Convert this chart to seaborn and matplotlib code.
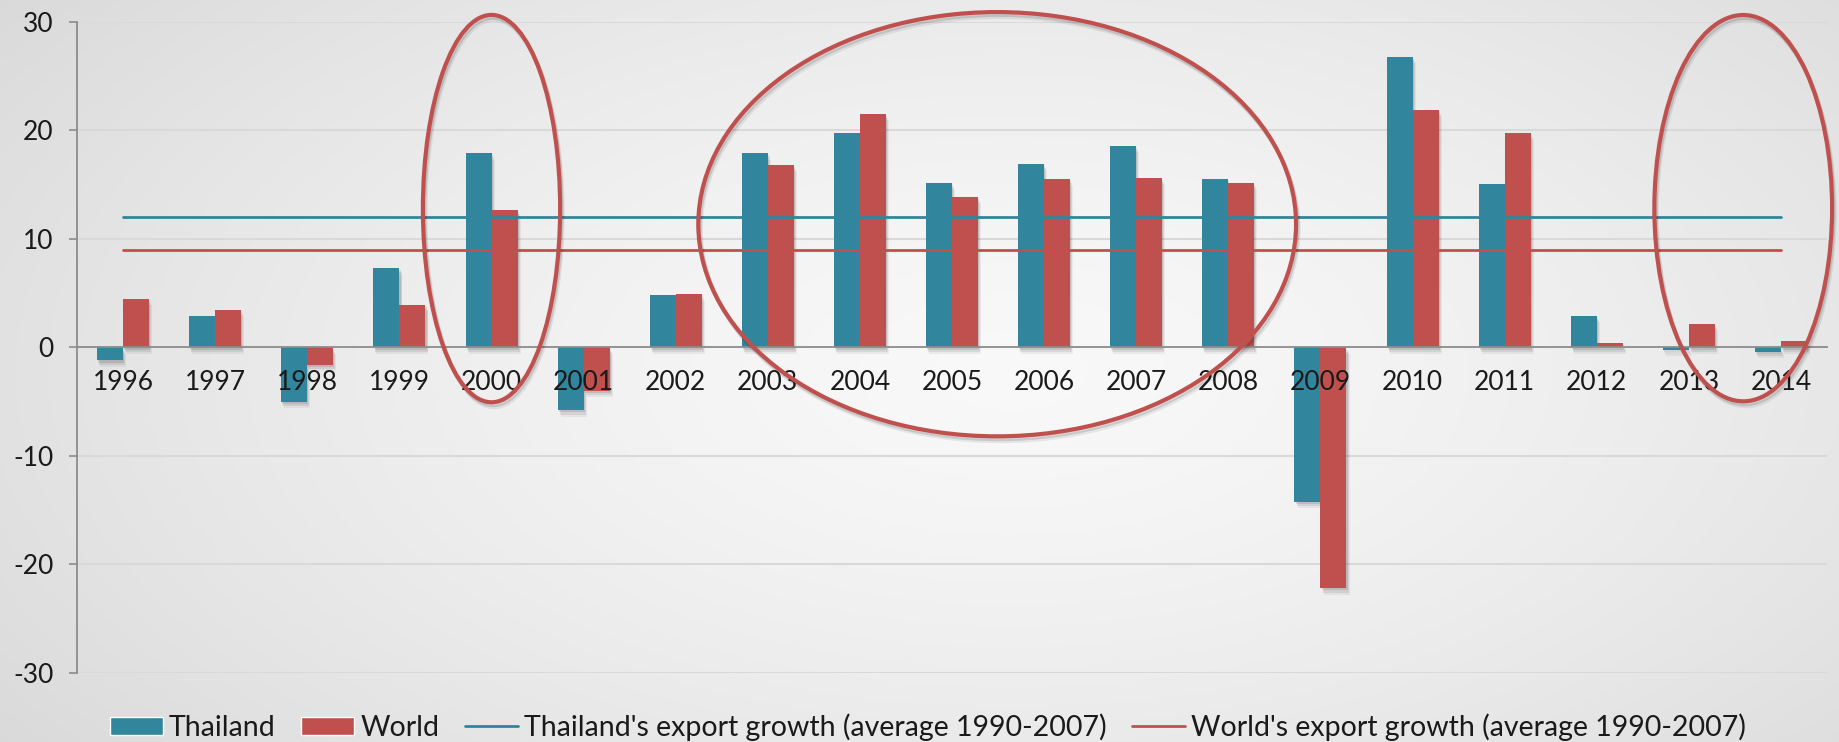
import numpy as np
import pandas as pd
import matplotlib
matplotlib.use("Agg")
import matplotlib.pyplot as plt
import matplotlib.patheffects as pe
from matplotlib.patches import Ellipse, Patch
from matplotlib.lines import Line2D
import seaborn as sns

# Export growth, % per year
years = [str(y) for y in range(1996, 2015)]
thailand = [-1.2, 2.9, -5.0, 7.3, 17.9, -5.8, 4.8, 17.9, 19.8, 15.2,
            16.9, 18.6, 15.5, -14.2, 26.8, 15.1, 2.9, -0.2, -0.4]
world = [4.5, 3.5, -1.6, 3.9, 12.7, -4.0, 4.9, 16.8, 21.5, 13.9,
         15.5, 15.6, 15.2, -22.2, 21.9, 19.8, 0.4, 2.2, 0.6]
thailand_avg = 12.0
world_avg = 9.0
series_names = ["Thailand", "World"]
line_names = ["Thailand's export growth (average 1990-2007)",
              "World's export growth (average 1990-2007)"]
y_ticks = [-30, -20, -10, 0, 10, 20, 30]

TEAL = "#31859C"
RED = "#C0504D"
GRAY = "#8C8C8C"
TEXT = "#1A1A1A"

sns.set_style("white")
plt.rcParams["font.family"] = ["Lato", "DejaVu Sans"]

df = pd.DataFrame({
    "year": years * 2,
    "growth": thailand + world,
    "series": [series_names[0]] * len(years) + [series_names[1]] * len(years),
})

fig = plt.figure(figsize=(18.39, 7.42), dpi=100)

# soft radial backdrop
bg = fig.add_axes([0, 0, 1, 1], zorder=-10)
yy, xx = np.mgrid[0:1:742j, 0:1:1839j]
d = np.sqrt(((xx - 0.55) / 0.75) ** 2 + ((yy - 0.5) / 0.95) ** 2)
shade = np.clip(0.975 - 0.14 * d ** 1.4, 0, 1)
bg.imshow(np.dstack([shade] * 3), aspect="auto", extent=[0, 1, 0, 1])
bg.set_axis_off()

ax = fig.add_axes([0.0419, 0.093, 0.9516, 0.8774])
ax.set_facecolor("none")

# horizontal gridlines sit beneath everything
for t in y_ticks:
    if t != 0:
        ax.axhline(t, color="#D9D9D9", lw=1.5, zorder=0.5)

sns.barplot(data=df, x="year", y="growth", hue="series", order=years,
            hue_order=series_names, palette={series_names[0]: TEAL, series_names[1]: RED},
            width=0.565, saturation=1, ax=ax, legend=False, zorder=1,
            linewidth=0)

# soft drop shadow built from a few faint offset copies
shadow = [pe.SimplePatchShadow(offset=(0.8, -1.5), shadow_rgbFace="black", alpha=0.10),
          pe.SimplePatchShadow(offset=(1.5, -3.0), shadow_rgbFace="black", alpha=0.08),
          pe.SimplePatchShadow(offset=(2.2, -4.5), shadow_rgbFace="black", alpha=0.05),
          pe.Normal()]
for p in ax.patches:
    p.set_path_effects(shadow)

# long-run averages
n = len(years)
ax.plot([0, n - 1], [thailand_avg] * 2, color=TEAL, lw=2, zorder=3)
ax.plot([0, n - 1], [world_avg] * 2, color=RED, lw=2, zorder=3)

# highlighted periods
for cx, cy, w, h in [(4.0, 12.8, 1.49, 35.7), (9.49, 11.36, 6.49, 39.1), (17.59, 12.84, 1.93, 35.6)]:
    e = Ellipse((cx, cy), w, h, fill=False, ec=RED, lw=3, zorder=6, clip_on=False)
    e.set_path_effects([pe.SimpleLineShadow(offset=(1.0, -2.0), shadow_color="black", alpha=0.12),
                        pe.SimpleLineShadow(offset=(1.8, -3.5), shadow_color="black", alpha=0.07),
                        pe.Normal()])
    ax.add_patch(e)

ax.set_xlim(-0.5, n - 0.5)
ax.set_ylim(-30, 30)
ax.set_yticks(y_ticks)
ax.set_yticklabels([str(t) for t in y_ticks])
ax.set_xlabel("")
ax.set_ylabel("")
ax.grid(False)
ax.set_axisbelow(False)

for s in ["top", "right"]:
    ax.spines[s].set_visible(False)
ax.spines["bottom"].set_position(("data", 0))
ax.spines["bottom"].set_color(GRAY)
ax.spines["bottom"].set_linewidth(1.3)
ax.spines["left"].set_color(GRAY)
ax.spines["left"].set_linewidth(1.3)

ax.set_xticks(np.arange(-0.5, n, 1.0), minor=True)
ax.tick_params(axis="x", which="major", length=0, pad=16, labelsize=19, labelcolor=TEXT)
ax.tick_params(axis="x", which="minor", length=6.5, width=1.2, color=GRAY, direction="out")
ax.tick_params(axis="y", which="major", length=5.8, width=1.2, color=GRAY, pad=11,
               labelsize=19, labelcolor=TEXT, left=True)

handles = [Patch(facecolor=TEAL), Patch(facecolor=RED),
           Line2D([], [], color=TEAL, lw=2), Line2D([], [], color=RED, lw=2)]
labels = series_names + line_names
fig.legend(handles, labels, loc="center", bbox_to_anchor=(0.5046, 0.0202), ncol=4,
           frameon=False, fontsize=20.5, handlelength=1.85, handleheight=0.6,
           handletextpad=0.22, columnspacing=0.9, labelcolor=TEXT)

fig.savefig("out.png", dpi=100)
